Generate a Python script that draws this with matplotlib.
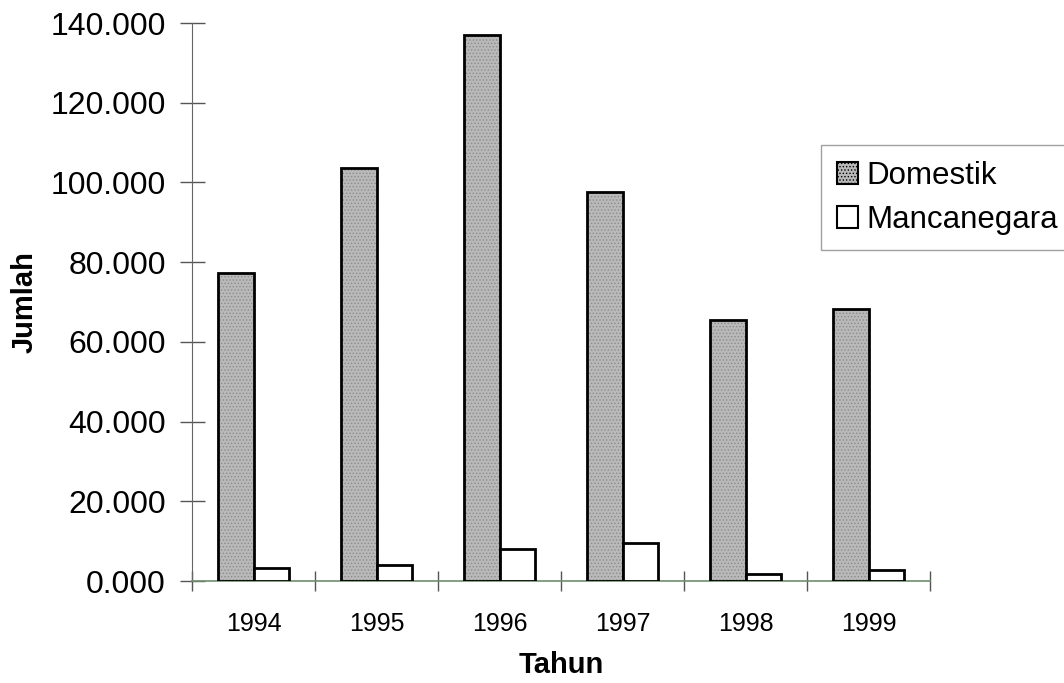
import numpy as np
import matplotlib.pyplot as plt
from matplotlib.patches import Patch

plt.rcParams['font.family'] = ['Liberation Sans', 'DejaVu Sans']
plt.rcParams['hatch.color'] = '#8c8c8c'
plt.rcParams['hatch.linewidth'] = 0.6

# data (ribu orang)
tahun = ['1994', '1995', '1996', '1997', '1998', '1999']
domestik = [77.2, 103.5, 137.0, 97.7, 65.5, 68.2]
mancanegara = [3.3, 4.0, 8.0, 9.5, 1.8, 2.8]

fig = plt.figure(figsize=(10.64, 6.83), dpi=100)
ax = fig.add_axes([0.1805, 0.1493, 0.6937, 0.817])

x = np.arange(len(tahun))
w = 0.29

# domestik: stippled gray fill, then black outline
ax.bar(x + 0.5 - w, domestik, width=w, align='edge', color='#b9b9b9',
       hatch='.....', edgecolor='#8c8c8c', linewidth=0, zorder=2)
ax.bar(x + 0.5 - w, domestik, width=w, align='edge', fill=False,
       edgecolor='black', linewidth=2, zorder=3)
ax.bar(x + 0.5, mancanegara, width=w, align='edge', color='white',
       edgecolor='black', linewidth=2, zorder=3)

ax.set_xlim(0, len(tahun))
ax.set_ylim(0, 140)

ax.set_xticks(np.arange(len(tahun) + 1))
ax.set_xticklabels([])
ax.set_xticks(x + 0.5, minor=True)
ax.set_xticklabels(tahun, minor=True, fontsize=18)
ax.tick_params(axis='x', which='major', direction='inout', length=14,
               color='#555555', width=1)
ax.tick_params(axis='x', which='minor', length=0, pad=22)

yt = np.arange(0, 141, 20)
ax.set_yticks(yt)
ax.set_yticklabels([f'{v:.3f}' for v in yt], fontsize=23)
ax.tick_params(axis='y', direction='inout', length=18, color='#555555',
               width=1, pad=10)

for s in ['top', 'right']:
    ax.spines[s].set_visible(False)
ax.spines['left'].set_color('#666666')
ax.spines['bottom'].set_color('#6f8f6f')
ax.spines['bottom'].set_linewidth(1.2)

ax.set_xlabel('Tahun', fontsize=21, fontweight='bold', va='center')
ax.xaxis.set_label_coords(0.5, -0.1505)
ax.set_ylabel('Jumlah', fontsize=21, fontweight='bold', va='center')
ax.yaxis.set_label_coords(-0.2263, 0.5)

handles = [Patch(facecolor='#b9b9b9', edgecolor='black', hatch='.....', linewidth=1.5),
           Patch(facecolor='white', edgecolor='black', linewidth=1.5)]
fig.legend(handles, ['Domestik', 'Mancanegara'], loc='upper left',
           bbox_to_anchor=(0.7715, 0.7877), fontsize=22.5, frameon=True,
           fancybox=False, edgecolor='#888888', handlelength=0.7,
           handleheight=0.7, handletextpad=0.25, borderpad=0.5,
           labelspacing=0.45, borderaxespad=0)

fig.savefig('out.png', dpi=100)
